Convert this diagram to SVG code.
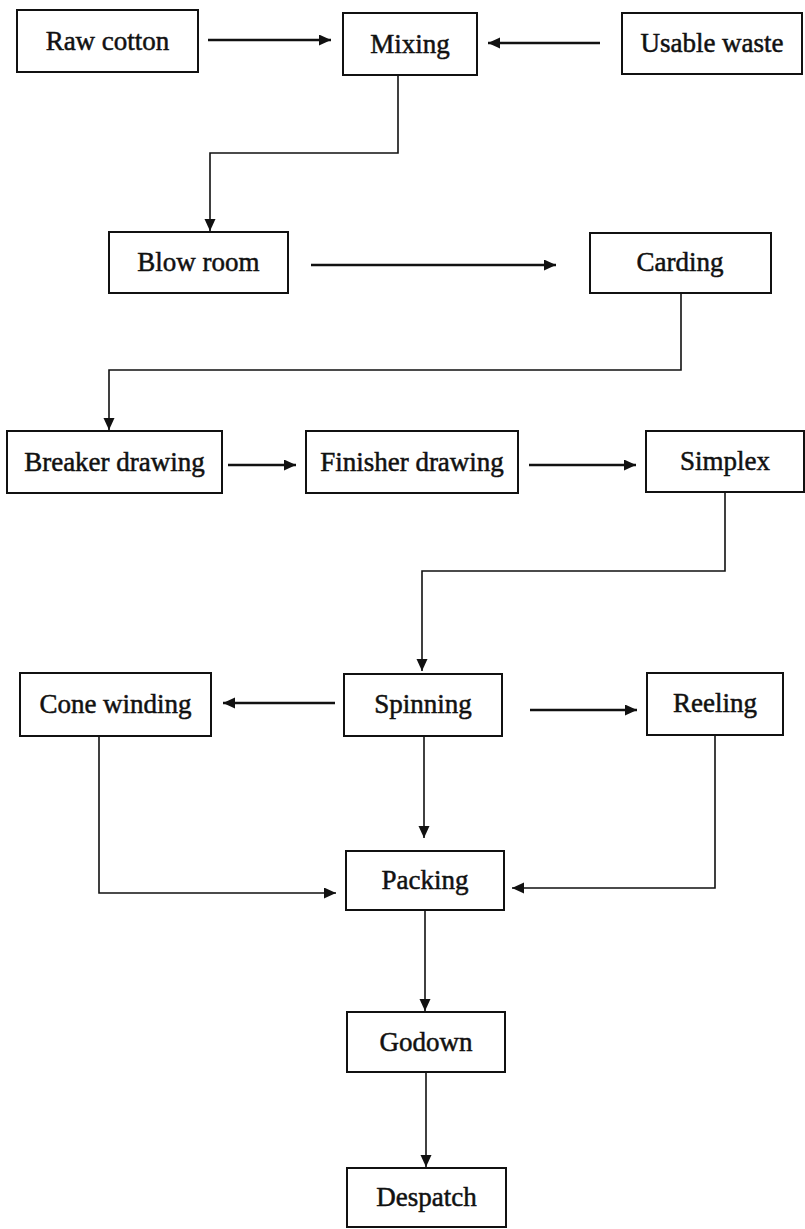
<svg xmlns="http://www.w3.org/2000/svg" width="805" height="1229" viewBox="0 0 805 1229">
<style>
.box{fill:#fff;stroke:#111;stroke-width:2}
.lbl{font-family:"Liberation Serif","Times New Roman",serif;font-size:27px;fill:#111;stroke:#111;stroke-width:0.5;text-anchor:middle}
.ln{fill:none;stroke:#111;stroke-width:1.6;marker-end:url(#ah)}
.th{stroke-width:2.4}
</style>
<defs>
<marker id="ah" markerUnits="userSpaceOnUse" markerWidth="13" markerHeight="12" refX="12" refY="5.5" orient="auto">
<path d="M0,0 L12,5.5 L0,11 z" fill="#111"/>
</marker>
</defs>
<rect width="805" height="1229" fill="#fff"/>
<g id="connectors">
<path class="ln th" d="M208,40 H331"/>
<path class="ln th" d="M600,43 H488"/>
<path class="ln" d="M398,75 V153 H210 V231"/>
<path class="ln th" d="M311,265 H556"/>
<path class="ln" d="M681,293 V370 H109 V430"/>
<path class="ln th" d="M228,465 H296"/>
<path class="ln th" d="M529,465 H636"/>
<path class="ln" d="M725,492 V571 H422 V671"/>
<path class="ln th" d="M335,703 H223"/>
<path class="ln th" d="M530,710 H637"/>
<path class="ln" d="M424,736 V838"/>
<path class="ln" d="M99,736 V893 H336"/>
<path class="ln" d="M715,735 V888 H512"/>
<path class="ln" d="M425,910 V1011"/>
<path class="ln" d="M426,1072 V1167"/>
</g>
<g id="raw-cotton"><rect class="box" x="17" y="10" width="181" height="62"/><text class="lbl" x="107.5" y="50">Raw cotton</text></g>
<g id="mixing"><rect class="box" x="343" y="13" width="134" height="62"/><text class="lbl" x="410" y="53">Mixing</text></g>
<g id="usable-waste"><rect class="box" x="622" y="13" width="180" height="61"/><text class="lbl" x="712" y="52">Usable waste</text></g>
<g id="blow-room"><rect class="box" x="109" y="232" width="179" height="61"/><text class="lbl" x="198.5" y="271">Blow room</text></g>
<g id="carding"><rect class="box" x="590" y="233" width="181" height="60"/><text class="lbl" x="680" y="271">Carding</text></g>
<g id="breaker-drawing"><rect class="box" x="7" y="431" width="215" height="62"/><text class="lbl" x="114.5" y="471">Breaker drawing</text></g>
<g id="finisher-drawing"><rect class="box" x="306" y="431" width="212" height="62"/><text class="lbl" x="412" y="471">Finisher drawing</text></g>
<g id="simplex"><rect class="box" x="646" y="431" width="158" height="61"/><text class="lbl" x="725" y="470">Simplex</text></g>
<g id="cone-winding"><rect class="box" x="20" y="673" width="191" height="63"/><text class="lbl" x="115.5" y="713">Cone winding</text></g>
<g id="spinning"><rect class="box" x="344" y="674" width="158" height="62"/><text class="lbl" x="423" y="713">Spinning</text></g>
<g id="reeling"><rect class="box" x="647" y="673" width="136" height="62"/><text class="lbl" x="715" y="712">Reeling</text></g>
<g id="packing"><rect class="box" x="346" y="851" width="158" height="59"/><text class="lbl" x="425" y="889">Packing</text></g>
<g id="godown"><rect class="box" x="347" y="1012" width="158" height="60"/><text class="lbl" x="426" y="1051">Godown</text></g>
<g id="despatch"><rect class="box" x="347" y="1168" width="159" height="59"/><text class="lbl" x="426.5" y="1206">Despatch</text></g>
</svg>
